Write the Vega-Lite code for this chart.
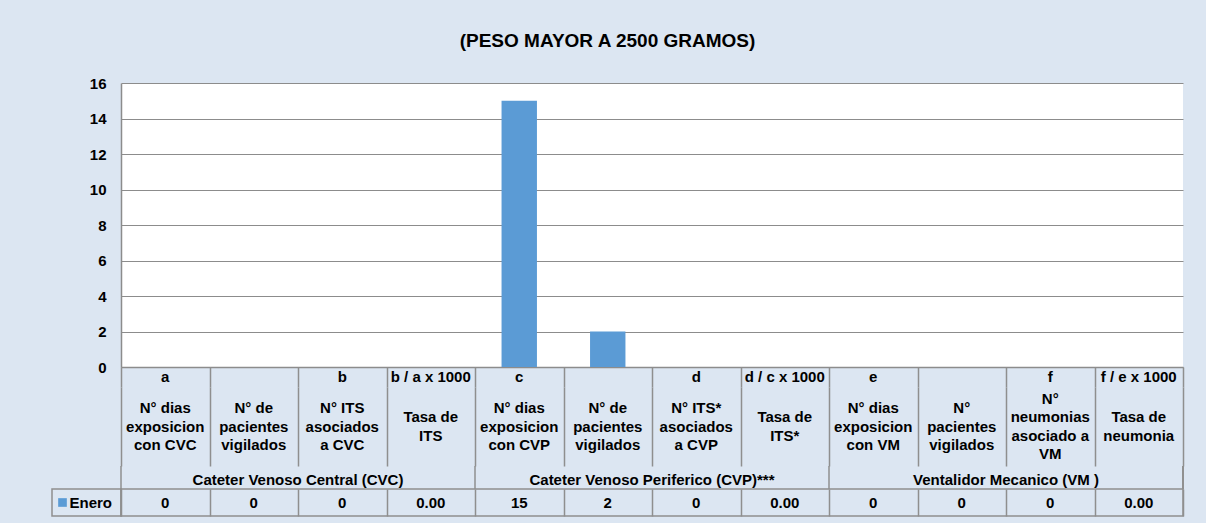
{
  "$schema": "https://vega.github.io/schema/vega-lite/v6.json",
  "background": "#DCE6F2",
  "padding": {"left": 51, "top": 32, "right": 24, "bottom": 6},
  "title": {"text": "(PESO MAYOR A 2500 GRAMOS)", "font": "Liberation Sans", "fontSize": 19, "fontWeight": "bold", "color": "#000000", "anchor": "middle", "offset": 25, "dx": -10},
  "columns": 2,
  "spacing": 0,
  "bounds": "flush",
  "config": {
    "view": {"stroke": null},
    "font": "Liberation Sans",
    "text": {"font": "Liberation Sans", "fontWeight": "bold", "fontSize": 15, "color": "#000000"}
  },
  "datasets": {
    "cols": [
      {"id": "c01", "letra": "a", "etiqueta": "N° dias\nexposicion\ncon CVC", "valor": 0, "texto": "0", "serie": "Enero"},
      {"id": "c02", "letra": "", "etiqueta": "N° de\npacientes\nvigilados", "valor": 0, "texto": "0", "serie": "Enero"},
      {"id": "c03", "letra": "b", "etiqueta": "N° ITS\nasociados\na CVC", "valor": 0, "texto": "0", "serie": "Enero"},
      {"id": "c04", "letra": "b / a x 1000", "etiqueta": "Tasa de\nITS", "valor": 0, "texto": "0.00", "serie": "Enero"},
      {"id": "c05", "letra": "c", "etiqueta": "N° dias\nexposicion\ncon CVP", "valor": 15, "texto": "15", "serie": "Enero"},
      {"id": "c06", "letra": "", "etiqueta": "N° de\npacientes\nvigilados", "valor": 2, "texto": "2", "serie": "Enero"},
      {"id": "c07", "letra": "d", "etiqueta": "N° ITS*\nasociados\na CVP", "valor": 0, "texto": "0", "serie": "Enero"},
      {"id": "c08", "letra": "d / c x 1000", "etiqueta": "Tasa de\nITS*", "valor": 0, "texto": "0.00", "serie": "Enero"},
      {"id": "c09", "letra": "e", "etiqueta": "N° dias\nexposicion\ncon VM", "valor": 0, "texto": "0", "serie": "Enero"},
      {"id": "c10", "letra": "", "etiqueta": "N°\npacientes\nvigilados", "valor": 0, "texto": "0", "serie": "Enero"},
      {"id": "c11", "letra": "f", "etiqueta": "N°\nneumonias\nasociado a\nVM", "valor": 0, "texto": "0", "serie": "Enero"},
      {"id": "c12", "letra": "f / e x 1000", "etiqueta": "Tasa de\nneumonia", "valor": 0, "texto": "0.00", "serie": "Enero"}
    ],
    "grupos": [
      {"grupo": "Cateter Venoso  Central (CVC)", "inicio": "c01", "centro": "c02"},
      {"grupo": "Cateter Venoso Periferico (CVP)***", "inicio": "c05", "centro": "c06"},
      {"grupo": "Ventalidor Mecanico (VM )", "inicio": "c09", "centro": "c10"}
    ],
    "series": [{"serie": "Enero"}]
  },
  "concat": [
    {"width": 69, "height": 284, "data": {"name": "series"}, "mark": {"type": "text", "text": ""}, "encoding": {}},
    {
      "width": 1062, "height": 284,
      "view": {"fill": "#FFFFFF", "stroke": null},
      "data": {"name": "cols"},
      "mark": {"type": "bar"},
      "encoding": {
        "x": {"field": "id", "type": "nominal", "sort": null,
              "scale": {"domain": ["c01","c02","c03","c04","c05","c06","c07","c08","c09","c10","c11","c12"], "paddingInner": 0.6, "paddingOuter": 0.3},
              "axis": {"labels": false, "ticks": false, "domain": true, "domainColor": "#8c8c8c", "domainWidth": 1.5, "grid": false, "title": null}},
        "y": {"field": "valor", "type": "quantitative",
              "scale": {"domain": [0, 16], "nice": false},
              "axis": {"values": [0, 2, 4, 6, 8, 10, 12, 14, 16], "title": null, "ticks": false, "domain": true, "domainColor": "#8c8c8c", "domainWidth": 1.5,
                       "grid": true, "gridColor": "#8c8c8c", "gridWidth": 1.2,
                       "labelFont": "Liberation Sans", "labelFontSize": 15, "labelFontWeight": "bold", "labelColor": "#000000", "labelPadding": 15}},
        "color": {"field": "serie", "type": "nominal", "scale": {"range": ["#5B9BD5"]}, "legend": null}
      }
    },
    {"width": 69, "height": 20, "data": {"name": "series"}, "mark": {"type": "text", "text": ""}, "encoding": {}},
    {
      "width": 1062, "height": 20,
      "data": {"name": "cols"},
      "mark": {"type": "text", "baseline": "middle"},
      "encoding": {
        "x": {"field": "id", "type": "nominal", "sort": null,
              "scale": {"type": "band", "domain": ["c01","c02","c03","c04","c05","c06","c07","c08","c09","c10","c11","c12"], "paddingInner": 0, "paddingOuter": 0},
              "axis": {"labels": false, "ticks": false, "domain": false, "grid": true, "tickBand": "extent", "gridColor": "#8f8f8f", "gridWidth": 1.5, "title": null}},
        "text": {"field": "letra"}
      }
    },
    {"width": 69, "height": 79, "data": {"name": "series"}, "mark": {"type": "text", "text": ""}, "encoding": {}},
    {
      "width": 1062, "height": 79,
      "data": {"name": "cols"},
      "encoding": {
        "x": {"field": "id", "type": "nominal", "sort": null,
              "scale": {"type": "band", "domain": ["c01","c02","c03","c04","c05","c06","c07","c08","c09","c10","c11","c12"], "paddingInner": 0, "paddingOuter": 0},
              "axis": {"labels": false, "ticks": false, "domain": false, "grid": true, "tickBand": "extent", "gridColor": "#8f8f8f", "gridWidth": 1.5, "title": null}},
        "text": {"field": "etiqueta"}
      },
      "layer": [
        {
          "transform": [{"filter": "length(split(datum.etiqueta, '\\n')) == 2"}],
          "mark": {"type": "text", "baseline": "middle", "lineBreak": "\n", "lineHeight": 18.5, "dy": -9.25}
        },
        {
          "transform": [{"filter": "length(split(datum.etiqueta, '\\n')) == 3"}],
          "mark": {"type": "text", "baseline": "middle", "lineBreak": "\n", "lineHeight": 18.5, "dy": -18.5}
        },
        {
          "transform": [{"filter": "length(split(datum.etiqueta, '\\n')) == 4"}],
          "mark": {"type": "text", "baseline": "middle", "lineBreak": "\n", "lineHeight": 18.5, "dy": -27.75}
        }
      ]
    },
    {"width": 69, "height": 23, "data": {"name": "series"}, "mark": {"type": "text", "text": ""}, "encoding": {}},
    {
      "width": 1062, "height": 23,
      "data": {"name": "grupos"},
      "layer": [
        {
          "mark": {"type": "rule", "color": "#8f8f8f", "strokeWidth": 1.5},
          "encoding": {
            "x": {"field": "inicio", "type": "nominal", "bandPosition": 0,
                  "scale": {"type": "band", "domain": ["c01","c02","c03","c04","c05","c06","c07","c08","c09","c10","c11","c12"], "paddingInner": 0, "paddingOuter": 0},
                  "axis": null}
          }
        },
        {
          "mark": {"type": "rule", "color": "#8f8f8f", "strokeWidth": 1.5},
          "encoding": {
            "x": {"datum": "c12", "type": "nominal", "bandPosition": 1}
          }
        },
        {
          "mark": {"type": "text", "baseline": "middle", "dy": 2},
          "encoding": {
            "x": {"field": "centro", "type": "nominal", "bandPosition": 1},
            "text": {"field": "grupo"}
          }
        }
      ]
    },
    {
      "width": 69, "height": 27,
      "view": {"stroke": "#8f8f8f", "strokeWidth": 1.5},
      "data": {"name": "series"},
      "layer": [
        {
          "mark": {"type": "point", "shape": "square", "filled": true, "size": 75, "opacity": 1},
          "encoding": {
            "xOffset": {"value": -24},
            "color": {"field": "serie", "type": "nominal", "scale": {"range": ["#5B9BD5"]}, "legend": null}
          }
        },
        {
          "mark": {"type": "text", "align": "left", "baseline": "middle", "dx": -17},
          "encoding": {"text": {"field": "serie"}}
        }
      ]
    },
    {
      "width": 1062, "height": 27,
      "view": {"stroke": "#8f8f8f", "strokeWidth": 1.5},
      "data": {"name": "cols"},
      "mark": {"type": "text", "baseline": "middle"},
      "encoding": {
        "x": {"field": "id", "type": "nominal", "sort": null,
              "scale": {"type": "band", "domain": ["c01","c02","c03","c04","c05","c06","c07","c08","c09","c10","c11","c12"], "paddingInner": 0, "paddingOuter": 0},
              "axis": {"labels": false, "ticks": false, "domain": false, "grid": true, "tickBand": "extent", "gridColor": "#8f8f8f", "gridWidth": 1.5, "title": null}},
        "text": {"field": "texto"}
      }
    }
  ]
}
